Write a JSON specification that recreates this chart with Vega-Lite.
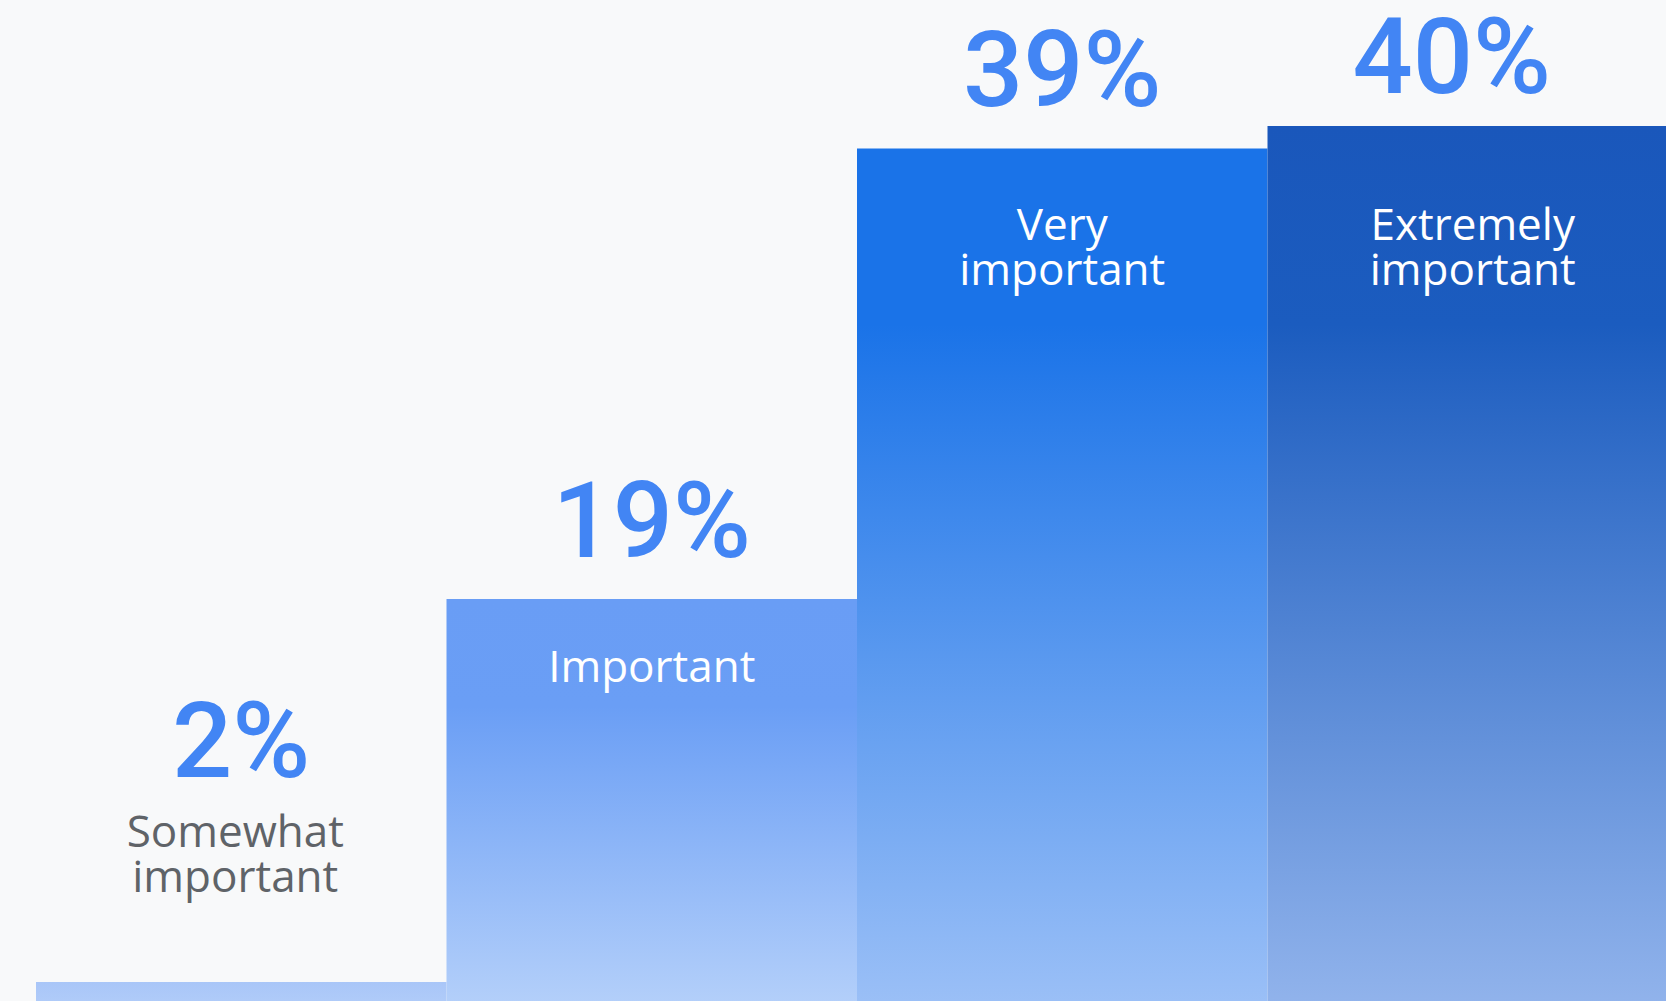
{
  "$schema": "https://vega.github.io/schema/vega-lite/v6.json",
  "width": 1642,
  "height": 1001,
  "autosize": {"type": "none"},
  "padding": {"left": 36, "top": 0, "right": 0, "bottom": 0},
  "background": "#f8f9fa",
  "config": {"view": {"stroke": null}, "font": "Open Sans"},
  "data": {"values": [
    {"category": "Somewhat important", "share": 0.02},
    {"category": "Important", "share": 0.19},
    {"category": "Very important", "share": 0.39},
    {"category": "Extremely important", "share": 0.40}
  ]},
  "encoding": {
    "x": {"field": "category", "type": "nominal", "sort": null, "axis": null,
          "scale": {"paddingInner": 0, "paddingOuter": 0}},
    "y": {"field": "share", "type": "quantitative", "axis": null,
          "scale": {"domain": [0.0116, 0.4559], "nice": false, "zero": false}}
  },
  "layer": [
    {"transform": [{"filter": "datum.category === 'Somewhat important'"}],
     "mark": {"type": "bar", "clip": true, "color": {"gradient": "linear", "x1": 0, "y1": 0, "x2": 0, "y2": 1,
       "stops": [{"offset": 0, "color": "#a9c6f8"}, {"offset": 1, "color": "#b8d2fa"}]}},
     "encoding": {"y2": {"datum": 0}}},
    {"transform": [{"filter": "datum.category === 'Important'"}],
     "mark": {"type": "bar", "clip": true, "color": {"gradient": "linear", "x1": 0, "y1": 0, "x2": 0, "y2": 1,
       "stops": [{"offset": 0, "color": "#699df5"}, {"offset": 0.25, "color": "#6a9ef5"}, {"offset": 1, "color": "#b9d3fa"}]}},
     "encoding": {"y2": {"datum": 0}}},
    {"transform": [{"filter": "datum.category === 'Very important'"}],
     "mark": {"type": "bar", "clip": true, "color": {"gradient": "linear", "x1": 0, "y1": 0, "x2": 0, "y2": 1,
       "stops": [{"offset": 0, "color": "#1a73e8"}, {"offset": 0.2, "color": "#1a73e8"}, {"offset": 1, "color": "#9fc2f7"}]}},
     "encoding": {"y2": {"datum": 0}}},
    {"transform": [{"filter": "datum.category === 'Extremely important'"}],
     "mark": {"type": "bar", "clip": true, "color": {"gradient": "linear", "x1": 0, "y1": 0, "x2": 0, "y2": 1,
       "stops": [{"offset": 0, "color": "#1a57bb"}, {"offset": 0.22, "color": "#1b5cbf"}, {"offset": 1, "color": "#95b6ed"}]}},
     "encoding": {"y2": {"datum": 0}}},
    {"transform": [{"filter": "datum.category === 'Important' || datum.category === 'Very important'"}],
     "mark": {"type": "text", "baseline": "alphabetic", "align": "center", "dy": -42, "font": "Roboto", "fontSize": 106, "fontWeight": 500, "color": "#4285f4"},
     "encoding": {"text": {"field": "share", "type": "quantitative", "format": ".0%"}}},
    {"transform": [{"filter": "datum.category === 'Extremely important'"}],
     "mark": {"type": "text", "baseline": "alphabetic", "align": "center", "dy": -33, "dx": -21, "font": "Roboto", "fontSize": 106, "fontWeight": 500, "color": "#4285f4"},
     "encoding": {"text": {"field": "share", "type": "quantitative", "format": ".0%"}}},
    {"transform": [{"filter": "datum.category === 'Somewhat important'"}],
     "mark": {"type": "text", "baseline": "alphabetic", "align": "center", "dy": -205, "font": "Roboto", "fontSize": 106, "fontWeight": 500, "color": "#4285f4"},
     "encoding": {"text": {"field": "share", "type": "quantitative", "format": ".0%"}}},
    {"transform": [{"filter": "datum.category === 'Somewhat important'"}],
     "mark": {"type": "text", "baseline": "alphabetic", "align": "center", "dy": -135, "dx": -6, "fontSize": 44, "lineHeight": 45, "lineBreak": " ", "color": "#5f6368"},
     "encoding": {"text": {"field": "category", "type": "nominal"}}},
    {"transform": [{"filter": "datum.category === 'Important'"}],
     "mark": {"type": "text", "baseline": "alphabetic", "align": "center", "dy": 83, "fontSize": 44, "lineHeight": 45, "lineBreak": " ", "color": "#ffffff"},
     "encoding": {"text": {"field": "category", "type": "nominal"}}},
    {"transform": [{"filter": "datum.category === 'Very important'"}],
     "mark": {"type": "text", "baseline": "alphabetic", "align": "center", "dy": 92, "fontSize": 44, "lineHeight": 45, "lineBreak": " ", "color": "#ffffff"},
     "encoding": {"text": {"field": "category", "type": "nominal"}}},
    {"transform": [{"filter": "datum.category === 'Extremely important'"}],
     "mark": {"type": "text", "baseline": "alphabetic", "align": "center", "dy": 114, "fontSize": 44, "lineHeight": 45, "lineBreak": " ", "color": "#ffffff"},
     "encoding": {"text": {"field": "category", "type": "nominal"}}}
  ]
}
